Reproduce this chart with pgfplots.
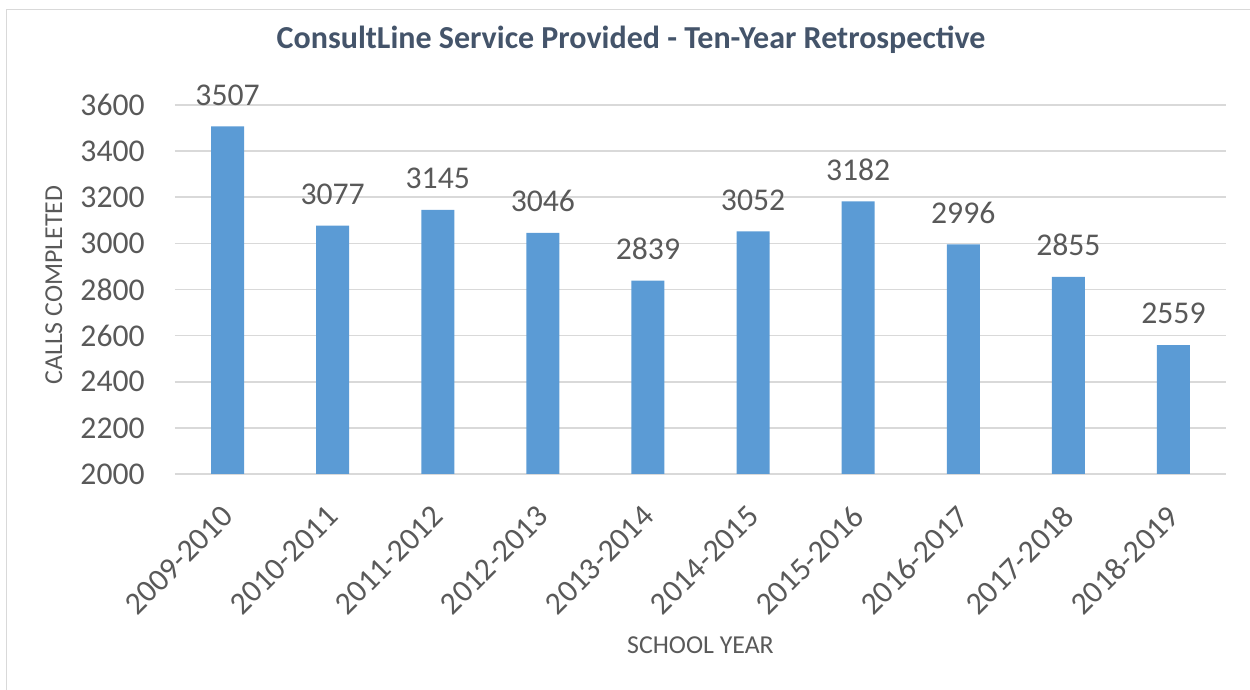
\documentclass[border=0pt]{standalone}
\usepackage{pgfplots}
\pgfplotsset{compat=1.18}
\usepackage{fontspec}
\setmainfont{Carlito}

\definecolor{barblue}{HTML}{5B9BD5}
\definecolor{txt}{HTML}{595959}
\definecolor{ttl}{HTML}{44546A}
\definecolor{grd}{HTML}{D9D9D9}

\begin{document}
\begin{tikzpicture}
% axis box sits at the origin; page = 1250x690 px at 0.6pt/px
\begin{axis}[
  anchor=south west,
  scale only axis, width=630.6pt, height=221.4pt,
  ybar, bar width=19.8pt,
  xmin=-0.5, xmax=9.5,
  ymin=2000, ymax=3600,
  ytick={2000,2200,...,3600},
  xtick=data,
  xticklabels={2009-2010,2010-2011,2011-2012,2012-2013,2013-2014,
               2014-2015,2015-2016,2016-2017,2017-2018,2018-2019},
  axis line style={draw=none},
  major tick length=0pt,
  ymajorgrids, grid style={grd, line width=1pt},
  /pgf/number format/1000 sep={},
  /pgf/number format/assume math mode=true,
  tick label style={text=txt, font=\fontsize{19}{22}\selectfont, inner sep=0pt},
  yticklabel style={anchor=east, xshift=-18pt},
  xticklabel style={xshift=0.3pt, yshift=-22.3pt, rotate=45, anchor=east},
  title={ConsultLine Service Provided - Ten-Year Retrospective},
  title style={at={(axis description cs:0.434,1.1247)}, anchor=base,
               font=\bfseries\fontsize{19.2}{22}\selectfont, text=ttl},
  ylabel={CALLS COMPLETED},
  ylabel style={at={(axis description cs:-0.1075,0.512)}, anchor=base,
                font=\fontsize{15.5}{18}\selectfont, text=txt},
  xlabel={SCHOOL YEAR},
  xlabel style={at={(axis description cs:0.5,-0.4878)}, anchor=base,
                font=\fontsize{15.5}{18}\selectfont, text=txt},
  nodes near coords,
  every node near coord/.append style={anchor=south, inner sep=0pt, yshift=12.4pt,
                                       text=txt, font=\fontsize{19}{22}\selectfont},
]
\addplot[fill=barblue, draw=none] coordinates {
  (0,3507) (1,3077) (2,3145) (3,3046) (4,2839)
  (5,3052) (6,3182) (7,2996) (8,2855) (9,2559)
};
\end{axis}
\pgfresetboundingbox
\path[use as bounding box] (-105pt,-129.6pt) rectangle (645pt,284.4pt);
\draw[grd, line width=1pt] (-101.1pt,-129.6pt) -- (-101.1pt,278.7pt) -- (645pt,278.7pt);
\end{tikzpicture}
\end{document}
